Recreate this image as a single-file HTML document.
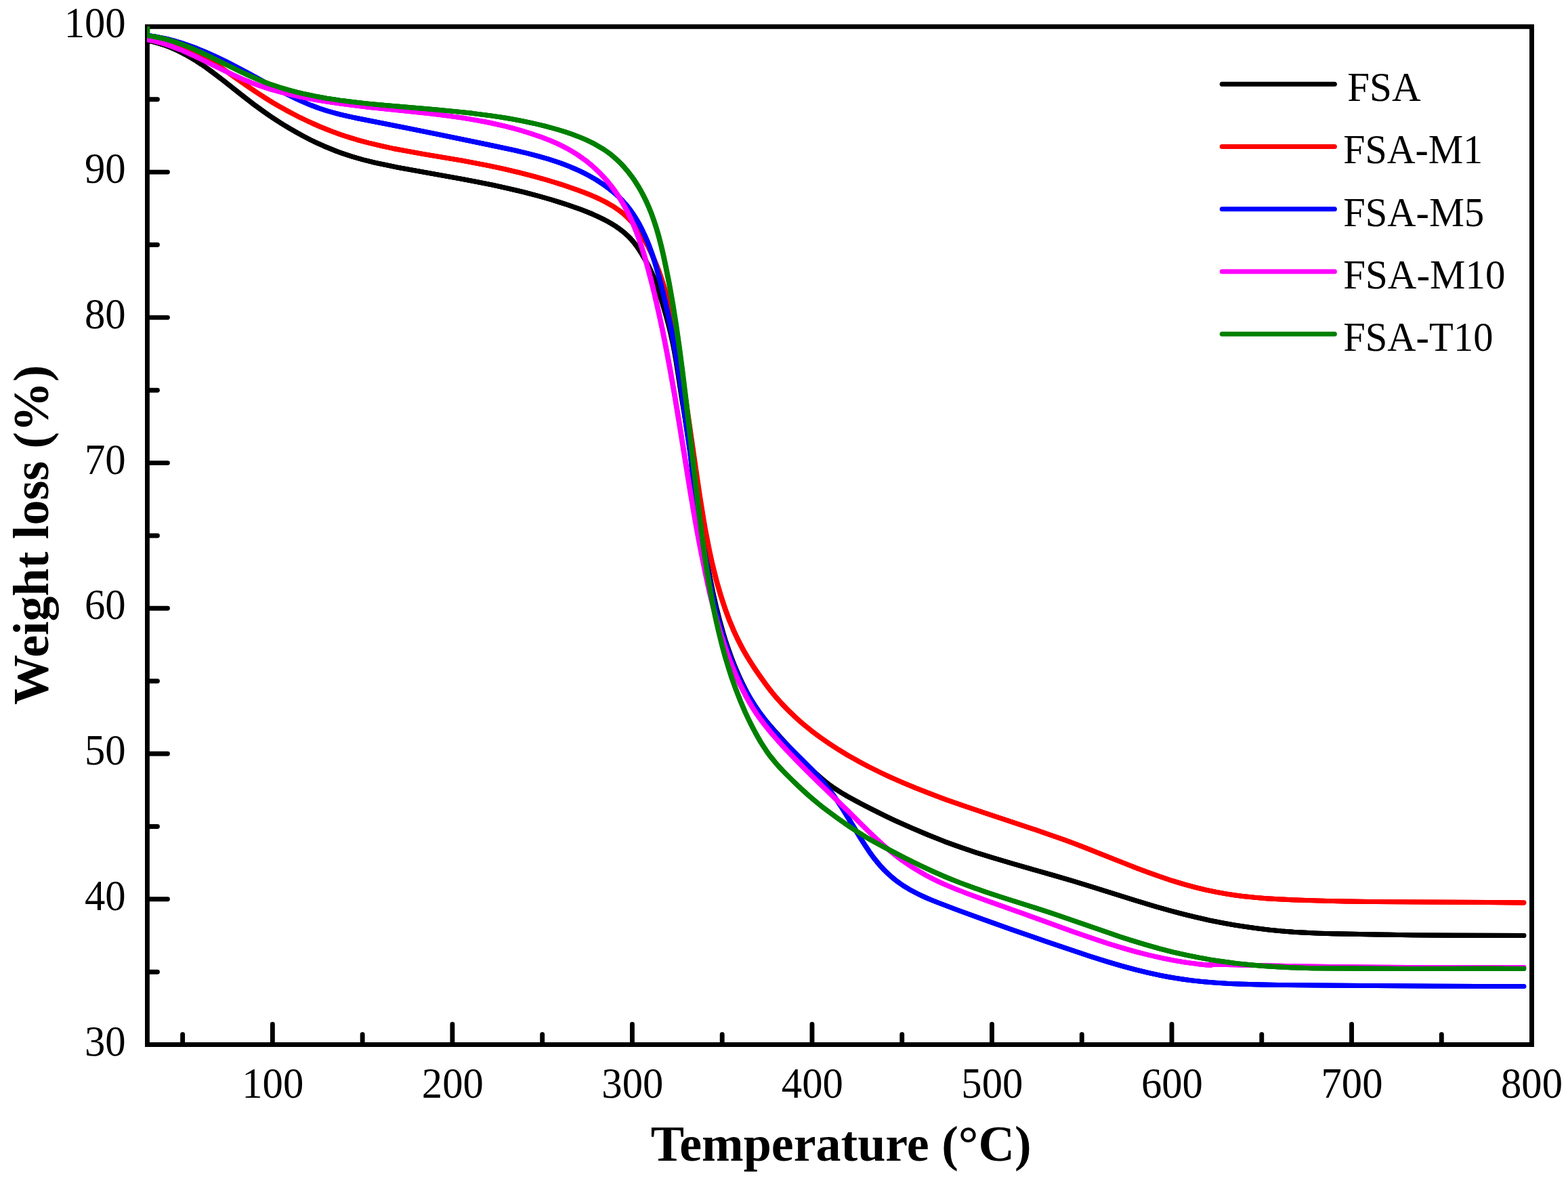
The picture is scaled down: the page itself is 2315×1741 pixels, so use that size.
<!DOCTYPE html>
<html lang="en">
<head>
<meta charset="utf-8">
<title>TGA curves - Weight loss vs Temperature</title>
<style>
html,body{margin:0;padding:0;background:#fff;}
body{width:2315px;height:1741px;overflow:hidden;}
svg{display:block;}
text{font-family:"Liberation Serif","Times New Roman",serif;fill:#000;}
.tick{font-size:62.6px;}
.leg{font-size:61.5px;}
.lab{font-size:74px;font-weight:bold;}
.ax{stroke:#000;stroke-width:6.9;fill:none;stroke-linecap:round;}
.cv{fill:none;stroke-width:6.9;stroke-linejoin:round;stroke-linecap:round;}
</style>
</head>
<body>
<svg width="2315" height="1741" viewBox="0 0 2315 1741" role="img" aria-label="TGA weight loss curves of FSA, FSA-M1, FSA-M5, FSA-M10 and FSA-T10">
<rect x="0" y="0" width="2315" height="1741" fill="#ffffff"/>
<clipPath id="plotclip"><rect x="217" y="39" width="2048.5" height="1507.55"/></clipPath>
<g id="axes">
<rect class="ax" x="217.45" y="39.35" width="2044.05" height="1503.2" stroke-linejoin="miter"/>
<line class="ax" x1="217.45" y1="1435.18" x2="232.45" y2="1435.18"/>
<line class="ax" x1="217.45" y1="1327.81" x2="247.45" y2="1327.81"/>
<line class="ax" x1="217.45" y1="1220.44" x2="232.45" y2="1220.44"/>
<line class="ax" x1="217.45" y1="1113.06" x2="247.45" y2="1113.06"/>
<line class="ax" x1="217.45" y1="1005.69" x2="232.45" y2="1005.69"/>
<line class="ax" x1="217.45" y1="898.32" x2="247.45" y2="898.32"/>
<line class="ax" x1="217.45" y1="790.95" x2="232.45" y2="790.95"/>
<line class="ax" x1="217.45" y1="683.58" x2="247.45" y2="683.58"/>
<line class="ax" x1="217.45" y1="576.21" x2="232.45" y2="576.21"/>
<line class="ax" x1="217.45" y1="468.84" x2="247.45" y2="468.84"/>
<line class="ax" x1="217.45" y1="361.46" x2="232.45" y2="361.46"/>
<line class="ax" x1="217.45" y1="254.09" x2="247.45" y2="254.09"/>
<line class="ax" x1="217.45" y1="146.72" x2="232.45" y2="146.72"/>
<line class="ax" x1="269.61" y1="1542.55" x2="269.61" y2="1527.55"/>
<line class="ax" x1="402.37" y1="1542.55" x2="402.37" y2="1512.55"/>
<line class="ax" x1="535.14" y1="1542.55" x2="535.14" y2="1527.55"/>
<line class="ax" x1="667.90" y1="1542.55" x2="667.90" y2="1512.55"/>
<line class="ax" x1="800.67" y1="1542.55" x2="800.67" y2="1527.55"/>
<line class="ax" x1="933.43" y1="1542.55" x2="933.43" y2="1512.55"/>
<line class="ax" x1="1066.20" y1="1542.55" x2="1066.20" y2="1527.55"/>
<line class="ax" x1="1198.96" y1="1542.55" x2="1198.96" y2="1512.55"/>
<line class="ax" x1="1331.73" y1="1542.55" x2="1331.73" y2="1527.55"/>
<line class="ax" x1="1464.49" y1="1542.55" x2="1464.49" y2="1512.55"/>
<line class="ax" x1="1597.26" y1="1542.55" x2="1597.26" y2="1527.55"/>
<line class="ax" x1="1730.02" y1="1542.55" x2="1730.02" y2="1512.55"/>
<line class="ax" x1="1862.79" y1="1542.55" x2="1862.79" y2="1527.55"/>
<line class="ax" x1="1995.55" y1="1542.55" x2="1995.55" y2="1512.55"/>
<line class="ax" x1="2128.32" y1="1542.55" x2="2128.32" y2="1527.55"/>
</g>
<g id="curves" clip-path="url(#plotclip)" shape-rendering="auto">
<g stroke="#000000">
<path class="cv" d="M217.5,59.9 L225.6,61.6 L233.4,63.7 L241.1,66.1 L250.5,69.6 L257.8,72.7 L266.7,76.9 L273.7,80.6 L282.3,85.5 L289.1,89.6 L297.4,95.0 L303.9,99.5 L312.0,105.4 L328.0,117.5 L359.6,142.5 L373.9,153.6 L390.2,165.4 L398.4,171.1 L406.7,176.6 L416.8,183.1 L427.0,189.3 L437.4,195.3 L447.8,201.0 L458.4,206.5 L467.4,210.8 L478.2,215.7 L487.4,219.5 L496.6,223.2 L504.1,225.9 L511.6,228.5 L519.3,231.0 L526.9,233.3 L536.6,236.0 L554.2,240.3 L570.0,243.7 L587.8,247.3 L611.5,251.7 L682.2,264.4 L705.7,268.9 L727.2,273.2 L750.6,278.3 L774.0,283.9 L795.3,289.5 L814.5,295.0 L826.0,298.6 L837.4,302.3 L848.8,306.2 L858.2,309.6 L867.6,313.2 L875.0,316.3 L882.3,319.6 L889.6,323.1 L896.7,326.8 L901.9,329.7 L908.7,333.9 L913.6,337.3 L918.4,340.9 L923.0,344.7 L927.3,348.7 L931.5,353.0 L935.4,357.5 L940.3,363.9 L943.7,368.9 L948.0,375.7 L952.1,382.7 L956.8,391.6 L961.2,400.6 L964.4,407.8 L966.6,413.3 L969.3,420.8 L973.7,434.0 L978.0,447.4 L984.2,468.6 L987.3,480.2 L989.7,489.9 L991.9,499.7 L994.0,509.5 L995.9,519.3 L998.0,531.1 L1000.8,548.9 L1006.8,588.4 L1013.9,631.8 L1016.4,647.7 L1018.7,663.5 L1020.3,677.4 L1024.4,719.3 L1026.2,735.1 L1028.3,751.0 L1030.7,764.8 L1033.0,776.5 L1039.0,805.9 L1049.6,860.9 L1053.2,878.5 L1057.2,896.0 L1062.1,915.4 L1067.5,934.7 L1070.4,944.3 L1073.6,953.8 L1079.6,970.8 L1084.7,983.9 L1090.2,996.7 L1096.1,1009.4 L1102.4,1021.9 L1108.3,1032.4 L1114.6,1042.6 L1120.2,1050.8 L1127.5,1060.4 L1132.5,1066.6 L1139.1,1074.2 L1156.4,1093.6 L1172.9,1111.1 L1188.4,1126.7 L1202.8,1140.5 L1208.7,1145.9 L1214.8,1151.1 L1219.4,1154.9 L1224.1,1158.5 L1229.0,1162.0 L1235.6,1166.4 L1242.3,1170.6 L1250.9,1175.7 L1259.6,1180.6 L1270.2,1186.3 L1284.5,1193.6 L1297.0,1199.9 L1309.6,1206.1 L1322.3,1212.1 L1346.0,1222.7 L1369.9,1232.8 L1394.1,1242.4 L1407.2,1247.2 L1418.5,1251.3 L1441.2,1258.9 L1467.9,1267.3 L1496.6,1275.8 L1558.2,1293.4 L1585.1,1301.2 L1611.9,1309.5 L1674.9,1329.3 L1705.5,1338.5 L1726.7,1344.5 L1746.0,1349.7 L1765.4,1354.4 L1784.9,1358.8 L1802.6,1362.3 L1820.3,1365.6 L1838.1,1368.4 L1855.9,1370.9 L1873.8,1373.1 L1891.7,1374.9 L1909.6,1376.3 L1927.6,1377.3 L1945.6,1378.1 L1967.6,1378.7 L2051.6,1380.3 L2085.6,1380.9 L2145.6,1381.3 L2249.6,1381.4"/>
<path class="cv" transform="translate(0.45,0)" d="M217.5,59.9 L225.6,61.6 L233.4,63.7 L241.1,66.1 L250.5,69.6 L257.8,72.7 L266.7,76.9 L273.7,80.6 L282.3,85.5 L289.1,89.6 L297.4,95.0 L303.9,99.5 L312.0,105.4 L328.0,117.5 L359.6,142.5 L373.9,153.6 L390.2,165.4 L398.4,171.1 L406.7,176.6 L416.8,183.1 L427.0,189.3 L437.4,195.3 L447.8,201.0 L458.4,206.5 L467.4,210.8 L478.2,215.7 L487.4,219.5 L496.6,223.2 L504.1,225.9 L511.6,228.5 L519.3,231.0 L526.9,233.3 L536.6,236.0 L554.2,240.3 L570.0,243.7 L587.8,247.3 L611.5,251.7 L682.2,264.4 L705.7,268.9 L727.2,273.2 L750.6,278.3 L774.0,283.9 L795.3,289.5 L814.5,295.0 L826.0,298.6 L837.4,302.3 L848.8,306.2 L858.2,309.6 L867.6,313.2 L875.0,316.3 L882.3,319.6 L889.6,323.1 L896.7,326.8 L901.9,329.7 L908.7,333.9 L913.6,337.3 L918.4,340.9 L923.0,344.7 L927.3,348.7 L931.5,353.0 L935.4,357.5 L940.3,363.9 L943.7,368.9 L948.0,375.7 L952.1,382.7 L956.8,391.6 L961.2,400.6 L964.4,407.8 L966.6,413.3 L969.3,420.8 L973.7,434.0 L978.0,447.4 L984.2,468.6 L987.3,480.2 L989.7,489.9 L991.9,499.7 L994.0,509.5 L995.9,519.3 L998.0,531.1 L1000.8,548.9 L1006.8,588.4 L1013.9,631.8 L1016.4,647.7 L1018.7,663.5 L1020.3,677.4 L1024.4,719.3 L1026.2,735.1 L1028.3,751.0 L1030.7,764.8 L1033.0,776.5 L1039.0,805.9 L1049.6,860.9 L1053.2,878.5 L1057.2,896.0 L1062.1,915.4 L1067.5,934.7 L1070.4,944.3 L1073.6,953.8 L1079.6,970.8 L1084.7,983.9 L1090.2,996.7 L1096.1,1009.4 L1102.4,1021.9 L1108.3,1032.4 L1114.6,1042.6 L1120.2,1050.8 L1127.5,1060.4 L1132.5,1066.6 L1139.1,1074.2 L1156.4,1093.6 L1172.9,1111.1 L1188.4,1126.7 L1202.8,1140.5 L1208.7,1145.9 L1214.8,1151.1 L1219.4,1154.9 L1224.1,1158.5 L1229.0,1162.0 L1235.6,1166.4 L1242.3,1170.6 L1250.9,1175.7 L1259.6,1180.6 L1270.2,1186.3 L1284.5,1193.6 L1297.0,1199.9 L1309.6,1206.1 L1322.3,1212.1 L1346.0,1222.7 L1369.9,1232.8 L1394.1,1242.4 L1407.2,1247.2 L1418.5,1251.3 L1441.2,1258.9 L1467.9,1267.3 L1496.6,1275.8 L1558.2,1293.4 L1585.1,1301.2 L1611.9,1309.5 L1674.9,1329.3 L1705.5,1338.5 L1726.7,1344.5 L1746.0,1349.7 L1765.4,1354.4 L1784.9,1358.8 L1802.6,1362.3 L1820.3,1365.6 L1838.1,1368.4 L1855.9,1370.9 L1873.8,1373.1 L1891.7,1374.9 L1909.6,1376.3 L1927.6,1377.3 L1945.6,1378.1 L1967.6,1378.7 L2051.6,1380.3 L2085.6,1380.9 L2145.6,1381.3 L2249.6,1381.4"/>
<path class="cv" transform="translate(-0.45,0)" d="M217.5,59.9 L225.6,61.6 L233.4,63.7 L241.1,66.1 L250.5,69.6 L257.8,72.7 L266.7,76.9 L273.7,80.6 L282.3,85.5 L289.1,89.6 L297.4,95.0 L303.9,99.5 L312.0,105.4 L328.0,117.5 L359.6,142.5 L373.9,153.6 L390.2,165.4 L398.4,171.1 L406.7,176.6 L416.8,183.1 L427.0,189.3 L437.4,195.3 L447.8,201.0 L458.4,206.5 L467.4,210.8 L478.2,215.7 L487.4,219.5 L496.6,223.2 L504.1,225.9 L511.6,228.5 L519.3,231.0 L526.9,233.3 L536.6,236.0 L554.2,240.3 L570.0,243.7 L587.8,247.3 L611.5,251.7 L682.2,264.4 L705.7,268.9 L727.2,273.2 L750.6,278.3 L774.0,283.9 L795.3,289.5 L814.5,295.0 L826.0,298.6 L837.4,302.3 L848.8,306.2 L858.2,309.6 L867.6,313.2 L875.0,316.3 L882.3,319.6 L889.6,323.1 L896.7,326.8 L901.9,329.7 L908.7,333.9 L913.6,337.3 L918.4,340.9 L923.0,344.7 L927.3,348.7 L931.5,353.0 L935.4,357.5 L940.3,363.9 L943.7,368.9 L948.0,375.7 L952.1,382.7 L956.8,391.6 L961.2,400.6 L964.4,407.8 L966.6,413.3 L969.3,420.8 L973.7,434.0 L978.0,447.4 L984.2,468.6 L987.3,480.2 L989.7,489.9 L991.9,499.7 L994.0,509.5 L995.9,519.3 L998.0,531.1 L1000.8,548.9 L1006.8,588.4 L1013.9,631.8 L1016.4,647.7 L1018.7,663.5 L1020.3,677.4 L1024.4,719.3 L1026.2,735.1 L1028.3,751.0 L1030.7,764.8 L1033.0,776.5 L1039.0,805.9 L1049.6,860.9 L1053.2,878.5 L1057.2,896.0 L1062.1,915.4 L1067.5,934.7 L1070.4,944.3 L1073.6,953.8 L1079.6,970.8 L1084.7,983.9 L1090.2,996.7 L1096.1,1009.4 L1102.4,1021.9 L1108.3,1032.4 L1114.6,1042.6 L1120.2,1050.8 L1127.5,1060.4 L1132.5,1066.6 L1139.1,1074.2 L1156.4,1093.6 L1172.9,1111.1 L1188.4,1126.7 L1202.8,1140.5 L1208.7,1145.9 L1214.8,1151.1 L1219.4,1154.9 L1224.1,1158.5 L1229.0,1162.0 L1235.6,1166.4 L1242.3,1170.6 L1250.9,1175.7 L1259.6,1180.6 L1270.2,1186.3 L1284.5,1193.6 L1297.0,1199.9 L1309.6,1206.1 L1322.3,1212.1 L1346.0,1222.7 L1369.9,1232.8 L1394.1,1242.4 L1407.2,1247.2 L1418.5,1251.3 L1441.2,1258.9 L1467.9,1267.3 L1496.6,1275.8 L1558.2,1293.4 L1585.1,1301.2 L1611.9,1309.5 L1674.9,1329.3 L1705.5,1338.5 L1726.7,1344.5 L1746.0,1349.7 L1765.4,1354.4 L1784.9,1358.8 L1802.6,1362.3 L1820.3,1365.6 L1838.1,1368.4 L1855.9,1370.9 L1873.8,1373.1 L1891.7,1374.9 L1909.6,1376.3 L1927.6,1377.3 L1945.6,1378.1 L1967.6,1378.7 L2051.6,1380.3 L2085.6,1380.9 L2145.6,1381.3 L2249.6,1381.4"/>
</g>
<g stroke="#ff0000">
<path class="cv" d="M217.5,58.2 L229.4,60.4 L239.3,62.5 L251.0,65.4 L260.7,68.2 L270.2,71.4 L279.6,74.8 L288.8,78.7 L296.0,82.1 L301.3,84.8 L308.2,88.6 L315.1,92.7 L321.8,96.9 L335.0,105.8 L364.5,126.6 L377.7,135.6 L394.6,146.5 L403.1,151.7 L411.7,156.7 L422.2,162.6 L432.8,168.2 L443.4,173.7 L452.4,178.0 L463.3,183.0 L472.4,187.0 L483.5,191.5 L492.8,195.1 L502.1,198.4 L509.7,201.0 L517.3,203.4 L526.8,206.3 L544.2,211.0 L563.7,215.7 L581.3,219.5 L601.1,223.2 L622.9,227.1 L682.3,237.2 L701.9,240.8 L721.5,244.6 L744.8,249.6 L766.0,254.7 L787.2,260.1 L806.4,265.5 L817.9,269.0 L829.4,272.6 L840.9,276.5 L852.4,280.5 L861.9,284.0 L869.5,287.0 L877.0,290.1 L884.4,293.5 L891.7,297.1 L897.0,299.9 L904.0,303.9 L909.0,307.2 L915.5,311.8 L920.2,315.5 L924.6,319.4 L928.8,323.5 L932.9,327.8 L937.9,333.9 L941.5,338.6 L946.0,345.1 L950.2,351.9 L954.2,358.9 L957.9,366.0 L961.4,373.2 L965.5,382.5 L969.3,391.8 L972.9,401.1 L976.2,410.6 L979.3,420.1 L982.2,429.7 L984.9,439.3 L987.9,450.9 L991.6,466.5 L995.3,484.1 L998.6,501.8 L1002.3,523.6 L1006.0,547.3 L1011.1,581.0 L1026.8,689.8 L1032.9,731.3 L1038.3,765.0 L1041.0,780.8 L1043.6,794.5 L1047.1,812.2 L1050.9,829.8 L1054.7,845.3 L1058.7,860.8 L1063.2,876.2 L1067.4,889.5 L1071.9,902.8 L1076.8,915.9 L1083.0,930.7 L1088.9,943.4 L1095.3,955.8 L1099.1,962.8 L1103.2,969.7 L1107.4,976.5 L1112.8,985.0 L1118.4,993.3 L1124.2,1001.5 L1130.1,1009.7 L1134.9,1016.1 L1139.8,1022.4 L1144.9,1028.6 L1154.2,1039.0 L1163.9,1049.1 L1174.0,1058.7 L1179.9,1064.1 L1186.0,1069.3 L1198.4,1079.4 L1211.2,1089.0 L1224.4,1098.1 L1237.8,1106.8 L1251.6,1115.2 L1267.3,1124.1 L1283.2,1132.5 L1299.4,1140.5 L1315.6,1148.1 L1333.9,1156.1 L1352.3,1163.8 L1372.8,1171.8 L1397.1,1180.9 L1425.4,1190.8 L1451.9,1199.8 L1528.0,1225.1 L1550.7,1232.9 L1569.6,1239.6 L1586.5,1245.8 L1603.3,1252.3 L1659.1,1274.4 L1677.7,1281.7 L1694.5,1288.0 L1711.4,1294.1 L1730.3,1300.4 L1747.5,1305.6 L1764.9,1310.3 L1780.5,1314.1 L1796.2,1317.3 L1810.0,1319.8 L1823.8,1322.0 L1837.7,1323.8 L1853.6,1325.4 L1869.6,1326.7 L1887.5,1327.8 L1907.5,1328.7 L1933.5,1329.6 L1959.5,1330.4 L1987.5,1331.0 L2019.5,1331.5 L2075.5,1331.9 L2197.6,1332.5 L2249.6,1333.0"/>
<path class="cv" transform="translate(0.45,0)" d="M217.5,58.2 L229.4,60.4 L239.3,62.5 L251.0,65.4 L260.7,68.2 L270.2,71.4 L279.6,74.8 L288.8,78.7 L296.0,82.1 L301.3,84.8 L308.2,88.6 L315.1,92.7 L321.8,96.9 L335.0,105.8 L364.5,126.6 L377.7,135.6 L394.6,146.5 L403.1,151.7 L411.7,156.7 L422.2,162.6 L432.8,168.2 L443.4,173.7 L452.4,178.0 L463.3,183.0 L472.4,187.0 L483.5,191.5 L492.8,195.1 L502.1,198.4 L509.7,201.0 L517.3,203.4 L526.8,206.3 L544.2,211.0 L563.7,215.7 L581.3,219.5 L601.1,223.2 L622.9,227.1 L682.3,237.2 L701.9,240.8 L721.5,244.6 L744.8,249.6 L766.0,254.7 L787.2,260.1 L806.4,265.5 L817.9,269.0 L829.4,272.6 L840.9,276.5 L852.4,280.5 L861.9,284.0 L869.5,287.0 L877.0,290.1 L884.4,293.5 L891.7,297.1 L897.0,299.9 L904.0,303.9 L909.0,307.2 L915.5,311.8 L920.2,315.5 L924.6,319.4 L928.8,323.5 L932.9,327.8 L937.9,333.9 L941.5,338.6 L946.0,345.1 L950.2,351.9 L954.2,358.9 L957.9,366.0 L961.4,373.2 L965.5,382.5 L969.3,391.8 L972.9,401.1 L976.2,410.6 L979.3,420.1 L982.2,429.7 L984.9,439.3 L987.9,450.9 L991.6,466.5 L995.3,484.1 L998.6,501.8 L1002.3,523.6 L1006.0,547.3 L1011.1,581.0 L1026.8,689.8 L1032.9,731.3 L1038.3,765.0 L1041.0,780.8 L1043.6,794.5 L1047.1,812.2 L1050.9,829.8 L1054.7,845.3 L1058.7,860.8 L1063.2,876.2 L1067.4,889.5 L1071.9,902.8 L1076.8,915.9 L1083.0,930.7 L1088.9,943.4 L1095.3,955.8 L1099.1,962.8 L1103.2,969.7 L1107.4,976.5 L1112.8,985.0 L1118.4,993.3 L1124.2,1001.5 L1130.1,1009.7 L1134.9,1016.1 L1139.8,1022.4 L1144.9,1028.6 L1154.2,1039.0 L1163.9,1049.1 L1174.0,1058.7 L1179.9,1064.1 L1186.0,1069.3 L1198.4,1079.4 L1211.2,1089.0 L1224.4,1098.1 L1237.8,1106.8 L1251.6,1115.2 L1267.3,1124.1 L1283.2,1132.5 L1299.4,1140.5 L1315.6,1148.1 L1333.9,1156.1 L1352.3,1163.8 L1372.8,1171.8 L1397.1,1180.9 L1425.4,1190.8 L1451.9,1199.8 L1528.0,1225.1 L1550.7,1232.9 L1569.6,1239.6 L1586.5,1245.8 L1603.3,1252.3 L1659.1,1274.4 L1677.7,1281.7 L1694.5,1288.0 L1711.4,1294.1 L1730.3,1300.4 L1747.5,1305.6 L1764.9,1310.3 L1780.5,1314.1 L1796.2,1317.3 L1810.0,1319.8 L1823.8,1322.0 L1837.7,1323.8 L1853.6,1325.4 L1869.6,1326.7 L1887.5,1327.8 L1907.5,1328.7 L1933.5,1329.6 L1959.5,1330.4 L1987.5,1331.0 L2019.5,1331.5 L2075.5,1331.9 L2197.6,1332.5 L2249.6,1333.0"/>
<path class="cv" transform="translate(-0.45,0)" d="M217.5,58.2 L229.4,60.4 L239.3,62.5 L251.0,65.4 L260.7,68.2 L270.2,71.4 L279.6,74.8 L288.8,78.7 L296.0,82.1 L301.3,84.8 L308.2,88.6 L315.1,92.7 L321.8,96.9 L335.0,105.8 L364.5,126.6 L377.7,135.6 L394.6,146.5 L403.1,151.7 L411.7,156.7 L422.2,162.6 L432.8,168.2 L443.4,173.7 L452.4,178.0 L463.3,183.0 L472.4,187.0 L483.5,191.5 L492.8,195.1 L502.1,198.4 L509.7,201.0 L517.3,203.4 L526.8,206.3 L544.2,211.0 L563.7,215.7 L581.3,219.5 L601.1,223.2 L622.9,227.1 L682.3,237.2 L701.9,240.8 L721.5,244.6 L744.8,249.6 L766.0,254.7 L787.2,260.1 L806.4,265.5 L817.9,269.0 L829.4,272.6 L840.9,276.5 L852.4,280.5 L861.9,284.0 L869.5,287.0 L877.0,290.1 L884.4,293.5 L891.7,297.1 L897.0,299.9 L904.0,303.9 L909.0,307.2 L915.5,311.8 L920.2,315.5 L924.6,319.4 L928.8,323.5 L932.9,327.8 L937.9,333.9 L941.5,338.6 L946.0,345.1 L950.2,351.9 L954.2,358.9 L957.9,366.0 L961.4,373.2 L965.5,382.5 L969.3,391.8 L972.9,401.1 L976.2,410.6 L979.3,420.1 L982.2,429.7 L984.9,439.3 L987.9,450.9 L991.6,466.5 L995.3,484.1 L998.6,501.8 L1002.3,523.6 L1006.0,547.3 L1011.1,581.0 L1026.8,689.8 L1032.9,731.3 L1038.3,765.0 L1041.0,780.8 L1043.6,794.5 L1047.1,812.2 L1050.9,829.8 L1054.7,845.3 L1058.7,860.8 L1063.2,876.2 L1067.4,889.5 L1071.9,902.8 L1076.8,915.9 L1083.0,930.7 L1088.9,943.4 L1095.3,955.8 L1099.1,962.8 L1103.2,969.7 L1107.4,976.5 L1112.8,985.0 L1118.4,993.3 L1124.2,1001.5 L1130.1,1009.7 L1134.9,1016.1 L1139.8,1022.4 L1144.9,1028.6 L1154.2,1039.0 L1163.9,1049.1 L1174.0,1058.7 L1179.9,1064.1 L1186.0,1069.3 L1198.4,1079.4 L1211.2,1089.0 L1224.4,1098.1 L1237.8,1106.8 L1251.6,1115.2 L1267.3,1124.1 L1283.2,1132.5 L1299.4,1140.5 L1315.6,1148.1 L1333.9,1156.1 L1352.3,1163.8 L1372.8,1171.8 L1397.1,1180.9 L1425.4,1190.8 L1451.9,1199.8 L1528.0,1225.1 L1550.7,1232.9 L1569.6,1239.6 L1586.5,1245.8 L1603.3,1252.3 L1659.1,1274.4 L1677.7,1281.7 L1694.5,1288.0 L1711.4,1294.1 L1730.3,1300.4 L1747.5,1305.6 L1764.9,1310.3 L1780.5,1314.1 L1796.2,1317.3 L1810.0,1319.8 L1823.8,1322.0 L1837.7,1323.8 L1853.6,1325.4 L1869.6,1326.7 L1887.5,1327.8 L1907.5,1328.7 L1933.5,1329.6 L1959.5,1330.4 L1987.5,1331.0 L2019.5,1331.5 L2075.5,1331.9 L2197.6,1332.5 L2249.6,1333.0"/>
</g>
<g stroke="#0000ff">
<path class="cv" d="M217.5,52.3 L227.5,53.7 L237.4,55.6 L247.2,57.7 L258.8,60.7 L268.3,63.6 L279.6,67.4 L290.8,71.6 L301.9,76.1 L311.0,80.1 L321.9,85.1 L332.7,90.3 L343.4,95.8 L364.7,107.0 L410.4,132.1 L422.8,138.6 L433.5,144.0 L446.1,149.8 L458.9,155.3 L470.1,159.5 L481.4,163.2 L491.0,166.0 L500.7,168.6 L512.4,171.4 L524.2,174.0 L600.9,189.1 L651.6,199.4 L720.1,213.5 L759.5,221.9 L779.1,226.5 L794.7,230.6 L810.1,235.0 L825.3,240.0 L832.8,242.7 L840.2,245.6 L847.5,248.7 L854.7,251.9 L861.9,255.4 L868.9,259.0 L875.8,262.9 L881.0,266.0 L887.7,270.3 L892.6,273.7 L899.1,278.5 L903.8,282.2 L909.9,287.5 L914.3,291.6 L918.5,295.8 L922.5,300.2 L926.4,304.8 L931.3,311.1 L935.8,317.7 L940.0,324.5 L944.0,331.5 L948.5,340.4 L951.9,347.6 L955.9,356.8 L959.5,366.1 L962.9,375.5 L966.0,385.0 L968.9,394.5 L972.2,406.1 L975.3,417.7 L982.0,445.0 L988.1,472.3 L990.9,486.0 L994.0,501.7 L999.3,531.2 L1004.0,560.8 L1007.4,584.6 L1013.4,630.3 L1018.4,663.9 L1020.3,677.8 L1022.3,695.7 L1025.4,729.5 L1026.9,743.5 L1028.7,757.3 L1031.0,771.1 L1033.0,780.9 L1038.1,804.4 L1040.1,814.2 L1042.3,826.0 L1046.6,851.7 L1049.5,867.4 L1052.8,883.0 L1056.4,898.6 L1059.4,910.2 L1062.5,921.8 L1065.9,933.3 L1068.8,942.9 L1071.9,952.4 L1075.2,961.9 L1078.7,971.3 L1082.4,980.7 L1087.0,991.7 L1092.1,1002.7 L1097.4,1013.4 L1102.2,1022.1 L1107.3,1030.8 L1113.7,1040.9 L1120.4,1050.8 L1127.5,1060.4 L1132.4,1066.7 L1138.8,1074.5 L1145.3,1082.1 L1152.0,1089.5 L1164.5,1102.5 L1188.8,1126.4 L1198.6,1136.4 L1208.1,1146.6 L1217.2,1157.1 L1222.2,1163.3 L1228.2,1171.2 L1232.8,1177.6 L1238.4,1185.9 L1243.9,1194.2 L1250.2,1204.4 L1269.0,1235.3 L1275.4,1245.5 L1283.1,1257.2 L1290.2,1267.0 L1295.2,1273.2 L1299.1,1277.8 L1304.5,1283.7 L1308.7,1287.9 L1314.6,1293.3 L1319.1,1297.2 L1323.7,1300.9 L1330.2,1305.5 L1335.1,1308.8 L1341.9,1312.9 L1347.1,1315.8 L1354.2,1319.5 L1359.6,1322.1 L1366.9,1325.5 L1374.2,1328.6 L1383.6,1332.4 L1413.8,1343.9 L1453.3,1358.3 L1494.6,1372.9 L1543.6,1389.9 L1581.5,1402.8 L1608.2,1411.7 L1633.1,1419.6 L1654.3,1425.9 L1675.5,1431.7 L1695.0,1436.4 L1714.5,1440.6 L1724.3,1442.5 L1734.1,1444.2 L1745.9,1446.0 L1759.7,1447.8 L1773.6,1449.4 L1787.5,1450.6 L1801.4,1451.6 L1817.4,1452.6 L1835.3,1453.3 L1853.4,1453.8 L1873.4,1454.2 L1901.4,1454.6 L2009.5,1455.5 L2113.5,1456.1 L2249.6,1456.6"/>
<path class="cv" transform="translate(0.45,0)" d="M217.5,52.3 L227.5,53.7 L237.4,55.6 L247.2,57.7 L258.8,60.7 L268.3,63.6 L279.6,67.4 L290.8,71.6 L301.9,76.1 L311.0,80.1 L321.9,85.1 L332.7,90.3 L343.4,95.8 L364.7,107.0 L410.4,132.1 L422.8,138.6 L433.5,144.0 L446.1,149.8 L458.9,155.3 L470.1,159.5 L481.4,163.2 L491.0,166.0 L500.7,168.6 L512.4,171.4 L524.2,174.0 L600.9,189.1 L651.6,199.4 L720.1,213.5 L759.5,221.9 L779.1,226.5 L794.7,230.6 L810.1,235.0 L825.3,240.0 L832.8,242.7 L840.2,245.6 L847.5,248.7 L854.7,251.9 L861.9,255.4 L868.9,259.0 L875.8,262.9 L881.0,266.0 L887.7,270.3 L892.6,273.7 L899.1,278.5 L903.8,282.2 L909.9,287.5 L914.3,291.6 L918.5,295.8 L922.5,300.2 L926.4,304.8 L931.3,311.1 L935.8,317.7 L940.0,324.5 L944.0,331.5 L948.5,340.4 L951.9,347.6 L955.9,356.8 L959.5,366.1 L962.9,375.5 L966.0,385.0 L968.9,394.5 L972.2,406.1 L975.3,417.7 L982.0,445.0 L988.1,472.3 L990.9,486.0 L994.0,501.7 L999.3,531.2 L1004.0,560.8 L1007.4,584.6 L1013.4,630.3 L1018.4,663.9 L1020.3,677.8 L1022.3,695.7 L1025.4,729.5 L1026.9,743.5 L1028.7,757.3 L1031.0,771.1 L1033.0,780.9 L1038.1,804.4 L1040.1,814.2 L1042.3,826.0 L1046.6,851.7 L1049.5,867.4 L1052.8,883.0 L1056.4,898.6 L1059.4,910.2 L1062.5,921.8 L1065.9,933.3 L1068.8,942.9 L1071.9,952.4 L1075.2,961.9 L1078.7,971.3 L1082.4,980.7 L1087.0,991.7 L1092.1,1002.7 L1097.4,1013.4 L1102.2,1022.1 L1107.3,1030.8 L1113.7,1040.9 L1120.4,1050.8 L1127.5,1060.4 L1132.4,1066.7 L1138.8,1074.5 L1145.3,1082.1 L1152.0,1089.5 L1164.5,1102.5 L1188.8,1126.4 L1198.6,1136.4 L1208.1,1146.6 L1217.2,1157.1 L1222.2,1163.3 L1228.2,1171.2 L1232.8,1177.6 L1238.4,1185.9 L1243.9,1194.2 L1250.2,1204.4 L1269.0,1235.3 L1275.4,1245.5 L1283.1,1257.2 L1290.2,1267.0 L1295.2,1273.2 L1299.1,1277.8 L1304.5,1283.7 L1308.7,1287.9 L1314.6,1293.3 L1319.1,1297.2 L1323.7,1300.9 L1330.2,1305.5 L1335.1,1308.8 L1341.9,1312.9 L1347.1,1315.8 L1354.2,1319.5 L1359.6,1322.1 L1366.9,1325.5 L1374.2,1328.6 L1383.6,1332.4 L1413.8,1343.9 L1453.3,1358.3 L1494.6,1372.9 L1543.6,1389.9 L1581.5,1402.8 L1608.2,1411.7 L1633.1,1419.6 L1654.3,1425.9 L1675.5,1431.7 L1695.0,1436.4 L1714.5,1440.6 L1724.3,1442.5 L1734.1,1444.2 L1745.9,1446.0 L1759.7,1447.8 L1773.6,1449.4 L1787.5,1450.6 L1801.4,1451.6 L1817.4,1452.6 L1835.3,1453.3 L1853.4,1453.8 L1873.4,1454.2 L1901.4,1454.6 L2009.5,1455.5 L2113.5,1456.1 L2249.6,1456.6"/>
<path class="cv" transform="translate(-0.45,0)" d="M217.5,52.3 L227.5,53.7 L237.4,55.6 L247.2,57.7 L258.8,60.7 L268.3,63.6 L279.6,67.4 L290.8,71.6 L301.9,76.1 L311.0,80.1 L321.9,85.1 L332.7,90.3 L343.4,95.8 L364.7,107.0 L410.4,132.1 L422.8,138.6 L433.5,144.0 L446.1,149.8 L458.9,155.3 L470.1,159.5 L481.4,163.2 L491.0,166.0 L500.7,168.6 L512.4,171.4 L524.2,174.0 L600.9,189.1 L651.6,199.4 L720.1,213.5 L759.5,221.9 L779.1,226.5 L794.7,230.6 L810.1,235.0 L825.3,240.0 L832.8,242.7 L840.2,245.6 L847.5,248.7 L854.7,251.9 L861.9,255.4 L868.9,259.0 L875.8,262.9 L881.0,266.0 L887.7,270.3 L892.6,273.7 L899.1,278.5 L903.8,282.2 L909.9,287.5 L914.3,291.6 L918.5,295.8 L922.5,300.2 L926.4,304.8 L931.3,311.1 L935.8,317.7 L940.0,324.5 L944.0,331.5 L948.5,340.4 L951.9,347.6 L955.9,356.8 L959.5,366.1 L962.9,375.5 L966.0,385.0 L968.9,394.5 L972.2,406.1 L975.3,417.7 L982.0,445.0 L988.1,472.3 L990.9,486.0 L994.0,501.7 L999.3,531.2 L1004.0,560.8 L1007.4,584.6 L1013.4,630.3 L1018.4,663.9 L1020.3,677.8 L1022.3,695.7 L1025.4,729.5 L1026.9,743.5 L1028.7,757.3 L1031.0,771.1 L1033.0,780.9 L1038.1,804.4 L1040.1,814.2 L1042.3,826.0 L1046.6,851.7 L1049.5,867.4 L1052.8,883.0 L1056.4,898.6 L1059.4,910.2 L1062.5,921.8 L1065.9,933.3 L1068.8,942.9 L1071.9,952.4 L1075.2,961.9 L1078.7,971.3 L1082.4,980.7 L1087.0,991.7 L1092.1,1002.7 L1097.4,1013.4 L1102.2,1022.1 L1107.3,1030.8 L1113.7,1040.9 L1120.4,1050.8 L1127.5,1060.4 L1132.4,1066.7 L1138.8,1074.5 L1145.3,1082.1 L1152.0,1089.5 L1164.5,1102.5 L1188.8,1126.4 L1198.6,1136.4 L1208.1,1146.6 L1217.2,1157.1 L1222.2,1163.3 L1228.2,1171.2 L1232.8,1177.6 L1238.4,1185.9 L1243.9,1194.2 L1250.2,1204.4 L1269.0,1235.3 L1275.4,1245.5 L1283.1,1257.2 L1290.2,1267.0 L1295.2,1273.2 L1299.1,1277.8 L1304.5,1283.7 L1308.7,1287.9 L1314.6,1293.3 L1319.1,1297.2 L1323.7,1300.9 L1330.2,1305.5 L1335.1,1308.8 L1341.9,1312.9 L1347.1,1315.8 L1354.2,1319.5 L1359.6,1322.1 L1366.9,1325.5 L1374.2,1328.6 L1383.6,1332.4 L1413.8,1343.9 L1453.3,1358.3 L1494.6,1372.9 L1543.6,1389.9 L1581.5,1402.8 L1608.2,1411.7 L1633.1,1419.6 L1654.3,1425.9 L1675.5,1431.7 L1695.0,1436.4 L1714.5,1440.6 L1724.3,1442.5 L1734.1,1444.2 L1745.9,1446.0 L1759.7,1447.8 L1773.6,1449.4 L1787.5,1450.6 L1801.4,1451.6 L1817.4,1452.6 L1835.3,1453.3 L1853.4,1453.8 L1873.4,1454.2 L1901.4,1454.6 L2009.5,1455.5 L2113.5,1456.1 L2249.6,1456.6"/>
</g>
<g stroke="#ff00ff">
<path class="cv" d="M217.5,58.6 L223.4,59.8 L229.2,61.1 L235.0,62.6 L240.8,64.3 L246.5,66.1 L254.0,68.7 L267.0,73.7 L278.0,78.5 L290.8,84.4 L330.5,104.0 L345.0,110.9 L357.8,116.6 L370.7,121.9 L383.8,126.7 L398.9,131.6 L412.3,135.5 L427.7,139.5 L445.2,143.4 L462.9,146.8 L482.6,150.2 L504.4,153.3 L522.2,155.6 L544.1,158.2 L611.9,165.3 L637.8,168.1 L661.6,171.1 L683.3,174.2 L705.0,177.8 L716.7,180.0 L726.5,182.0 L745.9,186.4 L755.6,188.9 L765.2,191.5 L782.5,196.7 L792.0,199.9 L799.6,202.6 L807.1,205.4 L814.6,208.5 L821.9,211.7 L829.2,215.2 L836.3,218.8 L841.6,221.8 L848.5,225.9 L853.6,229.1 L858.5,232.6 L863.4,236.1 L868.2,239.8 L874.4,245.0 L880.3,250.4 L886.1,256.0 L891.6,261.9 L898.2,269.4 L903.2,275.6 L909.0,283.6 L913.5,290.2 L918.6,298.6 L922.5,305.5 L927.1,314.2 L931.4,323.1 L935.4,332.2 L939.1,341.4 L942.6,350.7 L945.8,360.1 L949.5,371.5 L953.5,385.0 L957.2,398.5 L961.8,416.0 L966.1,433.5 L970.2,451.1 L974.1,468.7 L978.3,488.3 L982.2,507.9 L988.9,543.2 L996.2,584.5 L1002.7,623.9 L1019.6,728.6 L1024.6,758.2 L1029.5,785.8 L1035.5,817.2 L1041.5,846.6 L1047.5,874.0 L1053.2,897.3 L1056.8,910.8 L1060.6,924.2 L1064.6,937.6 L1068.9,950.9 L1073.5,964.2 L1077.7,975.4 L1082.1,986.6 L1086.7,997.7 L1091.7,1008.7 L1096.1,1017.8 L1101.6,1028.4 L1106.4,1037.1 L1111.6,1045.7 L1117.0,1054.0 L1122.8,1062.2 L1128.8,1070.1 L1138.8,1082.5 L1149.4,1094.6 L1162.9,1109.3 L1179.6,1126.6 L1192.2,1139.4 L1207.9,1154.9 L1252.4,1198.1 L1282.3,1227.6 L1295.4,1240.0 L1304.2,1248.1 L1313.3,1255.9 L1322.6,1263.4 L1330.5,1269.4 L1340.3,1276.2 L1348.6,1281.6 L1358.8,1287.8 L1367.5,1292.7 L1379.9,1299.1 L1387.2,1302.6 L1394.5,1305.9 L1411.1,1312.9 L1429.8,1320.1 L1456.2,1329.7 L1512.6,1349.8 L1584.2,1375.7 L1612.6,1385.6 L1637.3,1393.7 L1658.3,1400.1 L1677.6,1405.6 L1696.9,1410.5 L1716.3,1414.9 L1733.9,1418.4 L1751.7,1421.3 L1769.5,1423.7 L1779.5,1424.7 L1787.5,1425.4 M1786.0,1424.1 L1922.4,1426.9 L1962.6,1427.5 L2002.7,1428.0 L2079.0,1428.4 L2249.6,1428.4"/>
<path class="cv" transform="translate(0.45,0)" d="M217.5,58.6 L223.4,59.8 L229.2,61.1 L235.0,62.6 L240.8,64.3 L246.5,66.1 L254.0,68.7 L267.0,73.7 L278.0,78.5 L290.8,84.4 L330.5,104.0 L345.0,110.9 L357.8,116.6 L370.7,121.9 L383.8,126.7 L398.9,131.6 L412.3,135.5 L427.7,139.5 L445.2,143.4 L462.9,146.8 L482.6,150.2 L504.4,153.3 L522.2,155.6 L544.1,158.2 L611.9,165.3 L637.8,168.1 L661.6,171.1 L683.3,174.2 L705.0,177.8 L716.7,180.0 L726.5,182.0 L745.9,186.4 L755.6,188.9 L765.2,191.5 L782.5,196.7 L792.0,199.9 L799.6,202.6 L807.1,205.4 L814.6,208.5 L821.9,211.7 L829.2,215.2 L836.3,218.8 L841.6,221.8 L848.5,225.9 L853.6,229.1 L858.5,232.6 L863.4,236.1 L868.2,239.8 L874.4,245.0 L880.3,250.4 L886.1,256.0 L891.6,261.9 L898.2,269.4 L903.2,275.6 L909.0,283.6 L913.5,290.2 L918.6,298.6 L922.5,305.5 L927.1,314.2 L931.4,323.1 L935.4,332.2 L939.1,341.4 L942.6,350.7 L945.8,360.1 L949.5,371.5 L953.5,385.0 L957.2,398.5 L961.8,416.0 L966.1,433.5 L970.2,451.1 L974.1,468.7 L978.3,488.3 L982.2,507.9 L988.9,543.2 L996.2,584.5 L1002.7,623.9 L1019.6,728.6 L1024.6,758.2 L1029.5,785.8 L1035.5,817.2 L1041.5,846.6 L1047.5,874.0 L1053.2,897.3 L1056.8,910.8 L1060.6,924.2 L1064.6,937.6 L1068.9,950.9 L1073.5,964.2 L1077.7,975.4 L1082.1,986.6 L1086.7,997.7 L1091.7,1008.7 L1096.1,1017.8 L1101.6,1028.4 L1106.4,1037.1 L1111.6,1045.7 L1117.0,1054.0 L1122.8,1062.2 L1128.8,1070.1 L1138.8,1082.5 L1149.4,1094.6 L1162.9,1109.3 L1179.6,1126.6 L1192.2,1139.4 L1207.9,1154.9 L1252.4,1198.1 L1282.3,1227.6 L1295.4,1240.0 L1304.2,1248.1 L1313.3,1255.9 L1322.6,1263.4 L1330.5,1269.4 L1340.3,1276.2 L1348.6,1281.6 L1358.8,1287.8 L1367.5,1292.7 L1379.9,1299.1 L1387.2,1302.6 L1394.5,1305.9 L1411.1,1312.9 L1429.8,1320.1 L1456.2,1329.7 L1512.6,1349.8 L1584.2,1375.7 L1612.6,1385.6 L1637.3,1393.7 L1658.3,1400.1 L1677.6,1405.6 L1696.9,1410.5 L1716.3,1414.9 L1733.9,1418.4 L1751.7,1421.3 L1769.5,1423.7 L1779.5,1424.7 L1787.5,1425.4 M1786.0,1424.1 L1922.4,1426.9 L1962.6,1427.5 L2002.7,1428.0 L2079.0,1428.4 L2249.6,1428.4"/>
<path class="cv" transform="translate(-0.45,0)" d="M217.5,58.6 L223.4,59.8 L229.2,61.1 L235.0,62.6 L240.8,64.3 L246.5,66.1 L254.0,68.7 L267.0,73.7 L278.0,78.5 L290.8,84.4 L330.5,104.0 L345.0,110.9 L357.8,116.6 L370.7,121.9 L383.8,126.7 L398.9,131.6 L412.3,135.5 L427.7,139.5 L445.2,143.4 L462.9,146.8 L482.6,150.2 L504.4,153.3 L522.2,155.6 L544.1,158.2 L611.9,165.3 L637.8,168.1 L661.6,171.1 L683.3,174.2 L705.0,177.8 L716.7,180.0 L726.5,182.0 L745.9,186.4 L755.6,188.9 L765.2,191.5 L782.5,196.7 L792.0,199.9 L799.6,202.6 L807.1,205.4 L814.6,208.5 L821.9,211.7 L829.2,215.2 L836.3,218.8 L841.6,221.8 L848.5,225.9 L853.6,229.1 L858.5,232.6 L863.4,236.1 L868.2,239.8 L874.4,245.0 L880.3,250.4 L886.1,256.0 L891.6,261.9 L898.2,269.4 L903.2,275.6 L909.0,283.6 L913.5,290.2 L918.6,298.6 L922.5,305.5 L927.1,314.2 L931.4,323.1 L935.4,332.2 L939.1,341.4 L942.6,350.7 L945.8,360.1 L949.5,371.5 L953.5,385.0 L957.2,398.5 L961.8,416.0 L966.1,433.5 L970.2,451.1 L974.1,468.7 L978.3,488.3 L982.2,507.9 L988.9,543.2 L996.2,584.5 L1002.7,623.9 L1019.6,728.6 L1024.6,758.2 L1029.5,785.8 L1035.5,817.2 L1041.5,846.6 L1047.5,874.0 L1053.2,897.3 L1056.8,910.8 L1060.6,924.2 L1064.6,937.6 L1068.9,950.9 L1073.5,964.2 L1077.7,975.4 L1082.1,986.6 L1086.7,997.7 L1091.7,1008.7 L1096.1,1017.8 L1101.6,1028.4 L1106.4,1037.1 L1111.6,1045.7 L1117.0,1054.0 L1122.8,1062.2 L1128.8,1070.1 L1138.8,1082.5 L1149.4,1094.6 L1162.9,1109.3 L1179.6,1126.6 L1192.2,1139.4 L1207.9,1154.9 L1252.4,1198.1 L1282.3,1227.6 L1295.4,1240.0 L1304.2,1248.1 L1313.3,1255.9 L1322.6,1263.4 L1330.5,1269.4 L1340.3,1276.2 L1348.6,1281.6 L1358.8,1287.8 L1367.5,1292.7 L1379.9,1299.1 L1387.2,1302.6 L1394.5,1305.9 L1411.1,1312.9 L1429.8,1320.1 L1456.2,1329.7 L1512.6,1349.8 L1584.2,1375.7 L1612.6,1385.6 L1637.3,1393.7 L1658.3,1400.1 L1677.6,1405.6 L1696.9,1410.5 L1716.3,1414.9 L1733.9,1418.4 L1751.7,1421.3 L1769.5,1423.7 L1779.5,1424.7 L1787.5,1425.4 M1786.0,1424.1 L1922.4,1426.9 L1962.6,1427.5 L2002.7,1428.0 L2079.0,1428.4 L2249.6,1428.4"/>
</g>
<g stroke="#008000">
<path class="cv" d="M217.45,34.4 L217.5,52.6 L223.5,53.4 L229.4,54.5 L235.3,55.6 L243.1,57.5 L248.8,59.1 L256.4,61.4 L262.1,63.2 L269.6,65.9 L282.6,71.1 L297.2,77.6 L313.5,85.3 L344.2,100.5 L356.9,106.7 L369.6,112.5 L382.5,118.0 L389.9,121.0 L397.3,123.7 L412.4,128.8 L420.0,131.1 L429.6,133.8 L437.3,135.8 L447.0,138.1 L464.5,141.8 L482.2,145.1 L502.0,148.1 L523.9,150.9 L543.8,153.1 L565.8,155.2 L641.7,161.8 L669.6,164.4 L697.3,167.3 L723.0,170.6 L736.8,172.6 L748.6,174.5 L760.4,176.6 L772.1,178.9 L783.9,181.3 L793.6,183.5 L805.3,186.4 L815.0,189.0 L824.8,191.8 L834.5,194.8 L844.1,198.1 L851.7,200.9 L859.3,203.9 L866.7,207.1 L873.9,210.6 L879.2,213.4 L886.1,217.4 L891.2,220.5 L897.7,225.0 L902.4,228.6 L906.9,232.4 L912.8,237.7 L917.0,241.9 L922.3,247.7 L927.5,253.8 L932.3,260.1 L936.9,266.6 L942.3,275.1 L946.3,282.0 L951.0,290.9 L954.5,298.1 L958.5,307.2 L961.5,314.7 L964.9,324.1 L968.0,333.5 L970.9,343.1 L973.6,352.8 L976.5,364.4 L979.7,378.1 L982.6,391.8 L988.1,419.3 L993.3,448.8 L998.3,480.4 L1003.1,514.1 L1007.5,547.8 L1012.6,589.5 L1028.3,724.6 L1034.0,772.3 L1036.8,794.1 L1039.5,813.9 L1042.1,831.8 L1044.8,849.5 L1048.5,871.2 L1052.5,892.9 L1056.5,912.5 L1060.9,932.0 L1065.7,951.5 L1070.4,968.9 L1075.6,986.1 L1080.5,1001.4 L1086.6,1018.3 L1093.1,1035.0 L1100.2,1051.6 L1104.4,1060.6 L1107.9,1067.8 L1115.3,1082.0 L1119.2,1089.0 L1123.2,1096.0 L1127.5,1102.7 L1130.8,1107.7 L1135.4,1114.3 L1139.1,1119.0 L1144.1,1125.2 L1149.4,1131.3 L1154.8,1137.2 L1160.4,1142.9 L1169.0,1151.4 L1177.6,1159.8 L1186.4,1167.9 L1193.8,1174.6 L1205.9,1184.9 L1212.1,1189.9 L1220.0,1195.9 L1237.6,1208.9 L1253.9,1220.4 L1262.2,1225.9 L1270.5,1231.2 L1277.3,1235.4 L1285.9,1240.4 L1294.6,1245.2 L1305.2,1250.9 L1335.4,1266.6 L1358.8,1278.2 L1378.9,1287.5 L1397.3,1295.5 L1406.5,1299.3 L1417.7,1303.6 L1436.4,1310.5 L1457.1,1317.7 L1479.9,1325.2 L1529.4,1340.9 L1552.2,1348.3 L1576.9,1356.7 L1635.7,1377.1 L1652.8,1382.9 L1668.0,1387.9 L1691.0,1394.9 L1712.1,1400.9 L1731.5,1405.9 L1752.9,1410.7 L1770.5,1414.2 L1788.2,1417.3 L1806.0,1420.0 L1825.8,1422.6 L1845.7,1424.7 L1865.6,1426.5 L1885.5,1427.8 L1905.5,1428.8 L1921.5,1429.3 L1937.5,1429.7 L1975.5,1430.0 L2081.5,1430.4 L2199.6,1430.2 L2249.6,1430.4"/>
<path class="cv" transform="translate(0.45,0)" d="M217.45,34.4 L217.5,52.6 L223.5,53.4 L229.4,54.5 L235.3,55.6 L243.1,57.5 L248.8,59.1 L256.4,61.4 L262.1,63.2 L269.6,65.9 L282.6,71.1 L297.2,77.6 L313.5,85.3 L344.2,100.5 L356.9,106.7 L369.6,112.5 L382.5,118.0 L389.9,121.0 L397.3,123.7 L412.4,128.8 L420.0,131.1 L429.6,133.8 L437.3,135.8 L447.0,138.1 L464.5,141.8 L482.2,145.1 L502.0,148.1 L523.9,150.9 L543.8,153.1 L565.8,155.2 L641.7,161.8 L669.6,164.4 L697.3,167.3 L723.0,170.6 L736.8,172.6 L748.6,174.5 L760.4,176.6 L772.1,178.9 L783.9,181.3 L793.6,183.5 L805.3,186.4 L815.0,189.0 L824.8,191.8 L834.5,194.8 L844.1,198.1 L851.7,200.9 L859.3,203.9 L866.7,207.1 L873.9,210.6 L879.2,213.4 L886.1,217.4 L891.2,220.5 L897.7,225.0 L902.4,228.6 L906.9,232.4 L912.8,237.7 L917.0,241.9 L922.3,247.7 L927.5,253.8 L932.3,260.1 L936.9,266.6 L942.3,275.1 L946.3,282.0 L951.0,290.9 L954.5,298.1 L958.5,307.2 L961.5,314.7 L964.9,324.1 L968.0,333.5 L970.9,343.1 L973.6,352.8 L976.5,364.4 L979.7,378.1 L982.6,391.8 L988.1,419.3 L993.3,448.8 L998.3,480.4 L1003.1,514.1 L1007.5,547.8 L1012.6,589.5 L1028.3,724.6 L1034.0,772.3 L1036.8,794.1 L1039.5,813.9 L1042.1,831.8 L1044.8,849.5 L1048.5,871.2 L1052.5,892.9 L1056.5,912.5 L1060.9,932.0 L1065.7,951.5 L1070.4,968.9 L1075.6,986.1 L1080.5,1001.4 L1086.6,1018.3 L1093.1,1035.0 L1100.2,1051.6 L1104.4,1060.6 L1107.9,1067.8 L1115.3,1082.0 L1119.2,1089.0 L1123.2,1096.0 L1127.5,1102.7 L1130.8,1107.7 L1135.4,1114.3 L1139.1,1119.0 L1144.1,1125.2 L1149.4,1131.3 L1154.8,1137.2 L1160.4,1142.9 L1169.0,1151.4 L1177.6,1159.8 L1186.4,1167.9 L1193.8,1174.6 L1205.9,1184.9 L1212.1,1189.9 L1220.0,1195.9 L1237.6,1208.9 L1253.9,1220.4 L1262.2,1225.9 L1270.5,1231.2 L1277.3,1235.4 L1285.9,1240.4 L1294.6,1245.2 L1305.2,1250.9 L1335.4,1266.6 L1358.8,1278.2 L1378.9,1287.5 L1397.3,1295.5 L1406.5,1299.3 L1417.7,1303.6 L1436.4,1310.5 L1457.1,1317.7 L1479.9,1325.2 L1529.4,1340.9 L1552.2,1348.3 L1576.9,1356.7 L1635.7,1377.1 L1652.8,1382.9 L1668.0,1387.9 L1691.0,1394.9 L1712.1,1400.9 L1731.5,1405.9 L1752.9,1410.7 L1770.5,1414.2 L1788.2,1417.3 L1806.0,1420.0 L1825.8,1422.6 L1845.7,1424.7 L1865.6,1426.5 L1885.5,1427.8 L1905.5,1428.8 L1921.5,1429.3 L1937.5,1429.7 L1975.5,1430.0 L2081.5,1430.4 L2199.6,1430.2 L2249.6,1430.4"/>
<path class="cv" transform="translate(-0.45,0)" d="M217.45,34.4 L217.5,52.6 L223.5,53.4 L229.4,54.5 L235.3,55.6 L243.1,57.5 L248.8,59.1 L256.4,61.4 L262.1,63.2 L269.6,65.9 L282.6,71.1 L297.2,77.6 L313.5,85.3 L344.2,100.5 L356.9,106.7 L369.6,112.5 L382.5,118.0 L389.9,121.0 L397.3,123.7 L412.4,128.8 L420.0,131.1 L429.6,133.8 L437.3,135.8 L447.0,138.1 L464.5,141.8 L482.2,145.1 L502.0,148.1 L523.9,150.9 L543.8,153.1 L565.8,155.2 L641.7,161.8 L669.6,164.4 L697.3,167.3 L723.0,170.6 L736.8,172.6 L748.6,174.5 L760.4,176.6 L772.1,178.9 L783.9,181.3 L793.6,183.5 L805.3,186.4 L815.0,189.0 L824.8,191.8 L834.5,194.8 L844.1,198.1 L851.7,200.9 L859.3,203.9 L866.7,207.1 L873.9,210.6 L879.2,213.4 L886.1,217.4 L891.2,220.5 L897.7,225.0 L902.4,228.6 L906.9,232.4 L912.8,237.7 L917.0,241.9 L922.3,247.7 L927.5,253.8 L932.3,260.1 L936.9,266.6 L942.3,275.1 L946.3,282.0 L951.0,290.9 L954.5,298.1 L958.5,307.2 L961.5,314.7 L964.9,324.1 L968.0,333.5 L970.9,343.1 L973.6,352.8 L976.5,364.4 L979.7,378.1 L982.6,391.8 L988.1,419.3 L993.3,448.8 L998.3,480.4 L1003.1,514.1 L1007.5,547.8 L1012.6,589.5 L1028.3,724.6 L1034.0,772.3 L1036.8,794.1 L1039.5,813.9 L1042.1,831.8 L1044.8,849.5 L1048.5,871.2 L1052.5,892.9 L1056.5,912.5 L1060.9,932.0 L1065.7,951.5 L1070.4,968.9 L1075.6,986.1 L1080.5,1001.4 L1086.6,1018.3 L1093.1,1035.0 L1100.2,1051.6 L1104.4,1060.6 L1107.9,1067.8 L1115.3,1082.0 L1119.2,1089.0 L1123.2,1096.0 L1127.5,1102.7 L1130.8,1107.7 L1135.4,1114.3 L1139.1,1119.0 L1144.1,1125.2 L1149.4,1131.3 L1154.8,1137.2 L1160.4,1142.9 L1169.0,1151.4 L1177.6,1159.8 L1186.4,1167.9 L1193.8,1174.6 L1205.9,1184.9 L1212.1,1189.9 L1220.0,1195.9 L1237.6,1208.9 L1253.9,1220.4 L1262.2,1225.9 L1270.5,1231.2 L1277.3,1235.4 L1285.9,1240.4 L1294.6,1245.2 L1305.2,1250.9 L1335.4,1266.6 L1358.8,1278.2 L1378.9,1287.5 L1397.3,1295.5 L1406.5,1299.3 L1417.7,1303.6 L1436.4,1310.5 L1457.1,1317.7 L1479.9,1325.2 L1529.4,1340.9 L1552.2,1348.3 L1576.9,1356.7 L1635.7,1377.1 L1652.8,1382.9 L1668.0,1387.9 L1691.0,1394.9 L1712.1,1400.9 L1731.5,1405.9 L1752.9,1410.7 L1770.5,1414.2 L1788.2,1417.3 L1806.0,1420.0 L1825.8,1422.6 L1845.7,1424.7 L1865.6,1426.5 L1885.5,1427.8 L1905.5,1428.8 L1921.5,1429.3 L1937.5,1429.7 L1975.5,1430.0 L2081.5,1430.4 L2199.6,1430.2 L2249.6,1430.4"/>
</g>
</g>
<g id="ylabels">
<text class="tick" text-anchor="end" transform="translate(185.70,55.45) scale(0.9700,1)">100</text>
<text class="tick" text-anchor="end" transform="translate(185.70,270.19) scale(0.9700,1)">90</text>
<text class="tick" text-anchor="end" transform="translate(185.70,484.94) scale(0.9700,1)">80</text>
<text class="tick" text-anchor="end" transform="translate(185.70,699.68) scale(0.9700,1)">70</text>
<text class="tick" text-anchor="end" transform="translate(185.70,914.42) scale(0.9700,1)">60</text>
<text class="tick" text-anchor="end" transform="translate(185.70,1129.16) scale(0.9700,1)">50</text>
<text class="tick" text-anchor="end" transform="translate(185.70,1343.91) scale(0.9700,1)">40</text>
<text class="tick" text-anchor="end" transform="translate(185.70,1558.65) scale(0.9700,1)">30</text>
</g>
<g id="xlabels">
<text class="tick" text-anchor="middle" transform="translate(402.77,1621.00) scale(0.9700,1)">100</text>
<text class="tick" text-anchor="middle" transform="translate(668.30,1621.00) scale(0.9700,1)">200</text>
<text class="tick" text-anchor="middle" transform="translate(933.83,1621.00) scale(0.9700,1)">300</text>
<text class="tick" text-anchor="middle" transform="translate(1199.36,1621.00) scale(0.9700,1)">400</text>
<text class="tick" text-anchor="middle" transform="translate(1464.89,1621.00) scale(0.9700,1)">500</text>
<text class="tick" text-anchor="middle" transform="translate(1730.42,1621.00) scale(0.9700,1)">600</text>
<text class="tick" text-anchor="middle" transform="translate(1995.95,1621.00) scale(0.9700,1)">700</text>
<text class="tick" text-anchor="middle" transform="translate(2261.48,1621.00) scale(0.9700,1)">800</text>
</g>
<text class="lab" text-anchor="middle" x="1241.6" y="1713.8">Temperature (°C)</text>
<text class="lab" text-anchor="middle" transform="translate(70.7,790) rotate(-90)">Weight loss (%)</text>
<g id="legend">
<line x1="1804.2" y1="124.3" x2="1970.4" y2="124.3" stroke="#000000" stroke-width="7" stroke-linecap="round"/>
<text class="leg" text-anchor="start" transform="translate(1989.15,149.05) scale(0.9624,1)">FSA</text>
<line x1="1804.2" y1="216.6" x2="1970.4" y2="216.6" stroke="#ff0000" stroke-width="7" stroke-linecap="round"/>
<text class="leg" text-anchor="start" transform="translate(1983.15,241.30) scale(0.9428,1)">FSA-M1</text>
<line x1="1804.2" y1="308.8" x2="1970.4" y2="308.8" stroke="#0000ff" stroke-width="7" stroke-linecap="round"/>
<text class="leg" text-anchor="start" transform="translate(1983.15,333.55) scale(0.9518,1)">FSA-M5</text>
<line x1="1804.2" y1="401.1" x2="1970.4" y2="401.1" stroke="#ff00ff" stroke-width="7" stroke-linecap="round"/>
<text class="leg" text-anchor="start" transform="translate(1983.15,425.80) scale(0.9597,1)">FSA-M10</text>
<line x1="1804.2" y1="493.3" x2="1970.4" y2="493.3" stroke="#008000" stroke-width="7" stroke-linecap="round"/>
<text class="leg" text-anchor="start" transform="translate(1983.15,518.05) scale(0.9527,1)">FSA-T10</text>
</g>
</svg>
</body>
</html>
